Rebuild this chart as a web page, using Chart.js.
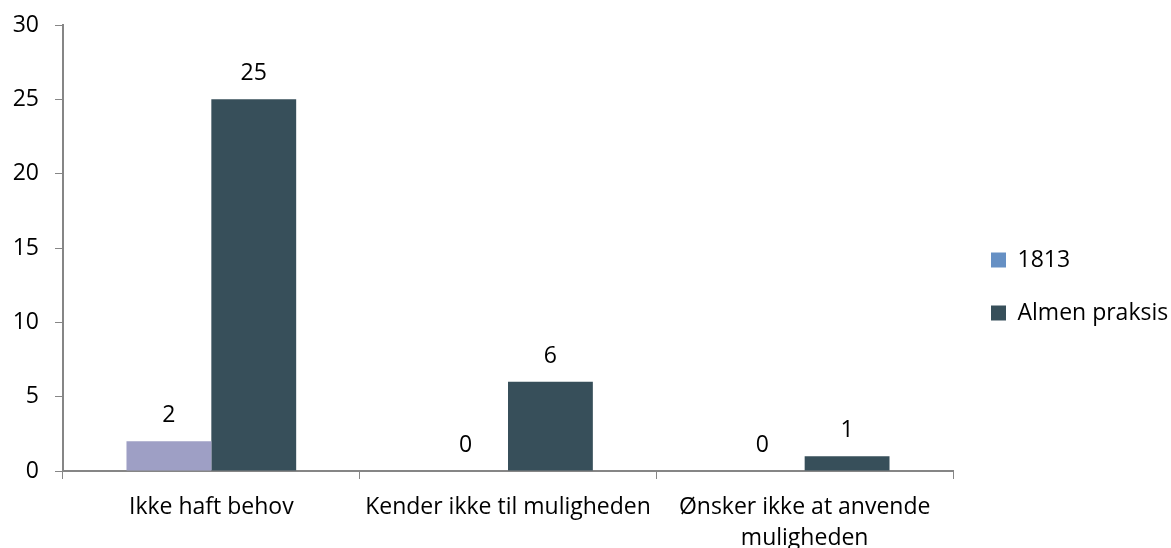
<!DOCTYPE html>
<html>
<head>
<meta charset="utf-8">
<script src="https://cdn.jsdelivr.net/npm/chart.js@4"></script>
<style>
html,body{margin:0;padding:0;background:#fff;}
#wrap{width:1171px;height:548px;position:relative;}
</style>
</head>
<body>
<div id="wrap"><canvas id="c"></canvas></div>
<script>
const categories = ['Ikke haft behov', 'Kender ikke til muligheden', ['Ønsker ikke at anvende', 'muligheden']];
const seriesNames = ['1813', 'Almen praksis'];
const values1813 = [2, 0, 0];
const valuesAlmen = [25, 6, 1];
const yTicks = [0, 5, 10, 15, 20, 25, 30];

const barColors = ['#9E9FC5', '#374F5A'];
const legendColors = ['#6690C4', '#374F5A'];
const FONT = '"Open Sans", sans-serif';
const FS = 23;

const valueLabels = {
  id: 'valueLabels',
  afterDatasetsDraw(chart) {
    const ctx = chart.ctx;
    ctx.save();
    ctx.font = FS + 'px ' + FONT;
    ctx.fillStyle = '#000';
    ctx.textAlign = 'center';
    ctx.textBaseline = 'alphabetic';
    chart.data.datasets.forEach((ds, i) => {
      const meta = chart.getDatasetMeta(i);
      meta.data.forEach((el, j) => {
        ctx.fillText(String(ds.data[j]), el.x, el.y - 19);
      });
    });
    ctx.restore();
  }
};

const chart = new Chart(document.getElementById('c'), {
  type: 'bar',
  data: {
    labels: categories,
    datasets: [
      { label: seriesNames[0], data: values1813, backgroundColor: barColors[0] },
      { label: seriesNames[1], data: valuesAlmen, backgroundColor: barColors[1] }
    ]
  },
  options: {
    responsive: true,
    maintainAspectRatio: false,
    animation: false,
    categoryPercentage: 0.572,
    barPercentage: 1,
    layout: { padding: { top: 25, right: 0, bottom: 0, left: 0 } },
    plugins: {
      tooltip: { enabled: false },
      legend: {
        position: 'right',
        labels: {
          font: { family: FONT, size: FS },
          color: '#000',
          boxWidth: 15,
          boxHeight: 15,
          padding: 30,
          generateLabels(chart) {
            return chart.data.datasets.map((ds, i) => ({
              text: ds.label,
              fillStyle: legendColors[i],
              strokeStyle: legendColors[i],
              lineWidth: 0,
              datasetIndex: i,
              hidden: false
            }));
          }
        }
      }
    },
    scales: {
      x: {
        grid: { drawOnChartArea: false, color: '#868686', tickLength: 8, offset: true },
        border: { color: '#868686', width: 2 },
        ticks: { font: { family: FONT, size: FS, lineHeight: 1.35 }, color: '#000', maxRotation: 0, autoSkip: false, padding: 13 },
        afterFit(s) { s.height = 77; }
      },
      y: {
        min: 0, max: 30,
        afterBuildTicks(s) { s.ticks = yTicks.map(v => ({ value: v })); },
        grid: { drawOnChartArea: false, color: '#868686', tickLength: 8 },
        border: { color: '#868686', width: 2 },
        ticks: { font: { family: FONT, size: FS }, color: '#000', padding: 16 },
        afterFit(s) { s.width = 63; s.paddingTop = 0; s.paddingBottom = 0; }
      }
    }
  },
  plugins: [valueLabels]
});

// make the legend box span from the plot's right edge (x≈953) to the canvas edge
const lg = chart.legend;
const origFit = lg.fit.bind(lg);
lg.fit = function () { origFit(); this.width = 218; this.minSize = { width: 218, height: this.height }; };
const origDraw = lg.draw.bind(lg);
lg.draw = function () {
  const ctx = this.ctx;
  ctx.save();
  ctx.translate(8, 0);
  origDraw();
  ctx.restore();
};
chart.update();
</script>
</body>
</html>
